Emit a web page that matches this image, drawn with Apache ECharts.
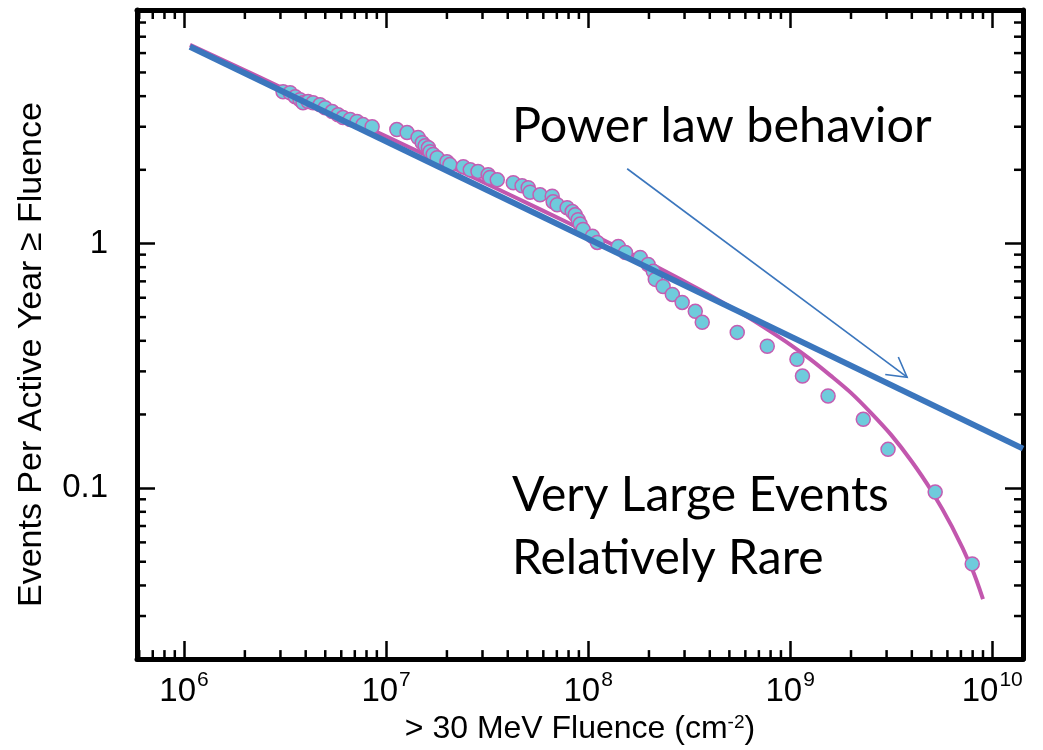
<!DOCTYPE html>
<html>
<head>
<meta charset="utf-8">
<script src="https://cdn.jsdelivr.net/npm/echarts@6/dist/echarts.min.js"></script>
<style>
html,body{margin:0;padding:0;background:#fff;}
#chart{width:1043px;height:750px;}
</style>
</head>
<body>
<div id="chart"></div>
<script>
// ---- data ----
const fluence = [3.09e6,3.35e6,3.55e6,3.75e6,3.88e6,4.11e6,4.35e6,4.71e6,4.99e6,5.41e6,5.78e6,6.12e6,6.64e6,7.18e6,7.69e6,8.53e6,
  1.13e7,1.27e7,1.44e7,1.51e7,1.56e7,1.62e7,1.65e7,1.71e7,1.79e7,2.00e7,2.07e7,2.41e7,2.61e7,2.85e7,3.20e7,3.27e7,3.55e7,
  4.26e7,4.71e7,5.05e7,5.16e7,5.78e7,6.64e7,6.71e7,7.03e7,7.87e7,8.34e7,8.63e7,8.92e7,9.13e7,9.44e7,1.05e8,1.11e8,
  1.41e8,1.53e8,1.81e8,1.98e8,2.10e8,2.15e8,2.35e8,2.61e8,2.92e8,3.39e8,3.67e8,5.47e8,7.70e8,1.08e9,1.15e9,1.54e9,2.30e9,3.05e9,5.22e9,7.96e9];
const eventsPerYear = [4.17,4.13,3.98,3.87,3.76,3.80,3.76,3.69,3.59,3.46,3.36,3.27,3.21,3.15,3.06,3.00,
  2.92,2.84,2.71,2.58,2.51,2.46,2.37,2.31,2.24,2.16,2.10,2.06,2.00,1.97,1.91,1.86,1.82,
  1.77,1.72,1.69,1.62,1.58,1.56,1.48,1.44,1.40,1.35,1.31,1.25,1.20,1.14,1.07,1.01,
  0.972,0.919,0.877,0.821,0.769,0.713,0.667,0.619,0.574,0.528,0.476,0.433,0.380,0.336,0.287,0.238,0.191,0.144,0.0963,0.0490];

// fitted curve (power law with cutoff)
const fitX = [1.07e6,1.78e6,3.16e6,5.62e6,1e7,1.78e7,3.16e7,5.62e7,1e8,1.78e8,3.16e8,3.98e8,5.01e8,6.31e8,7.94e8,
  1e9,1.26e9,1.58e9,2e9,2.51e9,3.16e9,3.98e9,5.01e9,6.31e9,7.94e9,9.0e9];
const fitY = [6.48,5.33,4.27,3.42,2.74,2.19,1.75,1.395,1.109,0.875,0.683,0.616,0.553,0.494,0.438,
  0.386,0.336,0.289,0.245,0.203,0.165,0.129,0.0973,0.0697,0.0468,0.0352];

// straight power-law line
const powerX = [1.07e6, 1.42e10];
const powerY = [6.37, 0.145];

// thin arrow annotation (start, end) in data units
const arrowX = [1.56e8, 3.79e9];
const arrowY = [2.02, 0.284];

// axes
const xRange = [5.85e5, 1.42e10];
const yRange = [0.02, 9];
const xMinorTicks = [6e5,7e5,8e5,9e5,2e6,3e6,4e6,5e6,6e6,7e6,8e6,9e6,2e7,3e7,4e7,5e7,6e7,7e7,8e7,9e7,
  2e8,3e8,4e8,5e8,6e8,7e8,8e8,9e8,2e9,3e9,4e9,5e9,6e9,7e9,8e9,9e9];
const yMinorTicks = [0.03,0.04,0.05,0.06,0.07,0.08,0.09,0.2,0.3,0.4,0.5,0.6,0.7,0.8,0.9,2,3,4,5,6,7,8];
const yTickLabels = {'-1':'0.1','0':'1'};

const FONT = "'Liberation Sans', Arial, Helvetica, sans-serif";
const ANN = "Lato, 'Open Sans', sans-serif";

function isDecade(v){ const l=Math.log10(v); return Math.abs(l-Math.round(l))<1e-6; }

const axisLineStyle = {color:'#000', width:5, cap:'round'};
const majorTick = {show:true, inside:true, length:18, lineStyle:{color:'#000', width:2.5}};

const chart = echarts.init(document.getElementById('chart'), null, {renderer:'canvas'});
chart.setOption({
  animation:false,
  backgroundColor:'#fff',
  grid:{left:137, top:10, right:20, bottom:90, containLabel:false},
  xAxis:[{
    type:'log', min:xRange[0], max:xRange[1], position:'bottom',
    axisLine:{show:true, onZero:false, lineStyle:axisLineStyle},
    axisTick:majorTick, splitLine:{show:false}, minorTick:{show:false},
    axisLabel:{margin:11, color:'#000', fontFamily:FONT, showMinLabel:false, showMaxLabel:false,
      formatter:v=> isDecade(v) ? '{b|10}{s|'+Math.round(Math.log10(v))+'}' : '',
      rich:{b:{fontSize:33, fontFamily:FONT, color:'#000', lineHeight:38, verticalAlign:'bottom'},
            s:{fontSize:21, fontFamily:FONT, color:'#000', lineHeight:38, verticalAlign:'top', padding:[0,0,0,1]}}},
    name:'> 30 MeV Fluence (cm{sup|-2})', nameLocation:'middle', nameGap:45,
    nameTextStyle:{fontSize:32, fontFamily:FONT, color:'#000',
      rich:{sup:{fontSize:19, fontFamily:FONT, color:'#000', verticalAlign:'top'}}}
  },{
    type:'log', min:xRange[0], max:xRange[1], position:'top',
    axisLine:{show:true, onZero:false, lineStyle:axisLineStyle},
    axisTick:majorTick, axisLabel:{show:false}, splitLine:{show:false}
  }],
  yAxis:[{
    type:'log', min:yRange[0], max:yRange[1], position:'left',
    axisLine:{show:true, onZero:false, lineStyle:axisLineStyle},
    axisTick:majorTick, splitLine:{show:false},
    axisLabel:{margin:29, color:'#000', fontFamily:FONT, fontSize:33, showMinLabel:false, showMaxLabel:false,
      formatter:v=>{ const l=Math.log10(v); if(Math.abs(l-Math.round(l))>1e-6) return ''; return yTickLabels[String(Math.round(l))]||''; }},
    name:'Events Per Active Year \u2265 Fluence', nameLocation:'middle', nameGap:88, nameRotate:90,
    nameTextStyle:{fontSize:34, fontFamily:FONT, color:'#000', padding:[0,40,0,0]}
  },{
    type:'log', min:yRange[0], max:yRange[1], position:'right',
    axisLine:{show:true, onZero:false, lineStyle:axisLineStyle},
    axisTick:majorTick, axisLabel:{show:false}, splitLine:{show:false}
  }],
  series:[
    { // x minor ticks (bottom & top)
      type:'custom', silent:true, clip:false, z:5,
      data:xMinorTicks.map(v=>[v,1]),
      renderItem:(params, api)=>{
        const p = api.coord([api.value(0), 1]); const cs = params.coordSys;
        const st = {stroke:'#000', lineWidth:2.5};
        return {type:'group', children:[
          {type:'line', shape:{x1:p[0], y1:cs.y+cs.height, x2:p[0], y2:cs.y+cs.height-9}, style:st},
          {type:'line', shape:{x1:p[0], y1:cs.y, x2:p[0], y2:cs.y+9}, style:st}]};
      }
    },
    { // y minor ticks (left & right)
      type:'custom', silent:true, clip:false, z:5,
      data:yMinorTicks.map(v=>[1e7,v]),
      renderItem:(params, api)=>{
        const p = api.coord([1e7, api.value(1)]); const cs = params.coordSys;
        const st = {stroke:'#000', lineWidth:2.5};
        return {type:'group', children:[
          {type:'line', shape:{x1:cs.x, y1:p[1], x2:cs.x+9, y2:p[1]}, style:st},
          {type:'line', shape:{x1:cs.x+cs.width, y1:p[1], x2:cs.x+cs.width-9, y2:p[1]}, style:st}]};
      }
    },
    { // fitted curve
      type:'line', data:fitX.map((x,i)=>[x,fitY[i]]), smooth:0.3, showSymbol:false, symbol:'none',
      lineStyle:{color:'#c257ae', width:4}, z:2, silent:true
    },
    { // measured events
      type:'scatter', data:fluence.map((x,i)=>[x,eventsPerYear[i]]), symbolSize:14,
      itemStyle:{color:'#6fcbdc', borderColor:'#c45db2', borderWidth:1.5, opacity:1}, z:3, silent:true
    },
    { // power law line
      type:'line', data:powerX.map((x,i)=>[x,powerY[i]]), showSymbol:false, symbol:'none',
      lineStyle:{color:'#3b76bd', width:6}, z:4, silent:true, clip:false
    },
    { // thin arrow
      type:'custom', silent:true, clip:false, z:4,
      data:[[arrowX[0],arrowY[0],arrowX[1],arrowY[1]]],
      encode:{x:[0,2], y:[1,3]},
      renderItem:(params, api)=>{
        const a = api.coord([api.value(0), api.value(1)]);
        const b = api.coord([api.value(2), api.value(3)]);
        const ang = Math.atan2(a[1]-b[1], a[0]-b[0]);
        const L = 22, d = 0.52;
        const st = {stroke:'#3b76bd', lineWidth:1.6, fill:null};
        return {type:'group', children:[
          {type:'line', shape:{x1:a[0], y1:a[1], x2:b[0], y2:b[1]}, style:st},
          {type:'polyline', shape:{points:[[b[0]+L*Math.cos(ang+d), b[1]+L*Math.sin(ang+d)], b, [b[0]+L*Math.cos(ang-d), b[1]+L*Math.sin(ang-d)]]}, style:st}
        ]};
      }
    }
  ],
  graphic:[
    {type:'text', left:512, top:102, silent:true, style:{text:'Power law behavior', font:"48.5px "+ANN, fill:'#000'}},
    {type:'text', left:512, top:472, silent:true, style:{text:'Very Large Events', font:"48px "+ANN, fill:'#000'}},
    {type:'text', left:512, top:535, silent:true, style:{text:'Relatively Rare', font:"48px "+ANN, fill:'#000'}}
  ]
});
</script>
</body>
</html>
